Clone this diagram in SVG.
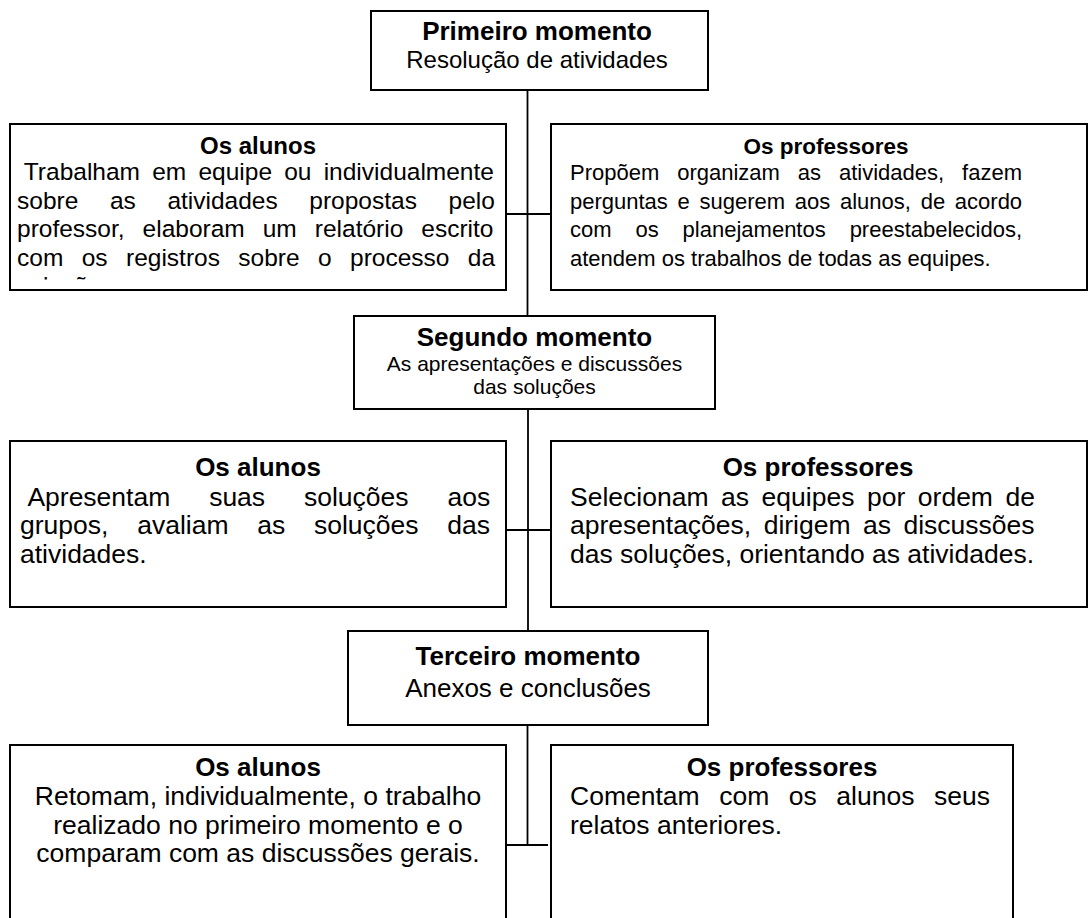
<svg xmlns="http://www.w3.org/2000/svg" width="1090" height="918" viewBox="0 0 1090 918">
<style>
.box{fill:#fff;stroke:#000;stroke-width:2}
.ln{fill:none;stroke:#000;stroke-width:1.8}
text{font-family:"Liberation Sans",Arial,sans-serif;fill:#000}
.b{font-weight:bold}
.c{text-anchor:middle}
.f1{font-size:24.5px}
.f1r{font-size:22px}
.f2{font-size:26.5px}
</style>
<defs>
<clipPath id="clipA"><rect x="10" y="124" width="496" height="155.5"/></clipPath>
</defs>
<g id="connectors">
<path class="ln" d="M527.5 90V316M506 214H551M528 409V631M506 530H551M527.5 725V845M502 845H548"/>
</g>
<g id="primeiro">
<rect class="box" x="371" y="11" width="337" height="79"/>
<text class="b c" x="537" y="40" font-size="26">Primeiro momento</text>
<text class="c" x="537" y="68" font-size="24">Resolução de atividades</text>
</g>
<g id="alunos1">
<rect class="box" x="10" y="124" width="496" height="166"/>
<text class="b c" x="258" y="154" font-size="24">Os alunos</text>
<g class="f1" clip-path="url(#clipA)">
<text x="23.8" y="180" style="word-spacing:5.4px">Trabalham em equipe ou individualmente</text>
<text x="17" y="208.5" style="word-spacing:24.8px">sobre as atividades propostas pelo</text>
<text x="17" y="237" style="word-spacing:11.2px">professor, elaboram um relatório escrito</text>
<text x="17" y="265.5" style="word-spacing:11.6px">com os registros sobre o processo da</text>
<text x="17" y="294">solução.</text>
</g>
</g>
<g id="professores1">
<rect class="box" x="551" y="124" width="536" height="166"/>
<text class="b c" x="826" y="154" font-size="22.5">Os professores</text>
<g class="f1r">
<text x="570" y="180" style="word-spacing:11.8px">Propõem organizam as atividades, fazem</text>
<text x="570" y="208.5" style="word-spacing:3.6px">perguntas e sugerem aos alunos, de acordo</text>
<text x="570" y="237" style="word-spacing:17.8px">com os planejamentos preestabelecidos,</text>
<text x="570" y="265.5">atendem os trabalhos de todas as equipes.</text>
</g>
</g>
<g id="segundo">
<rect class="box" x="354" y="316" width="361" height="93"/>
<text class="b c" x="534.5" y="346" font-size="26">Segundo momento</text>
<text class="c" x="534.5" y="371" font-size="21">As apresentações e discussões</text>
<text class="c" x="534.5" y="394" font-size="21">das soluções</text>
</g>
<g id="alunos2">
<rect class="box" x="10" y="441" width="496" height="166"/>
<text class="b c" x="258" y="476" font-size="26">Os alunos</text>
<g class="f2">
<text x="27.4" y="505.5" style="word-spacing:31.5px">Apresentam suas soluções aos</text>
<text x="20" y="534" style="word-spacing:21.4px">grupos, avaliam as soluções das</text>
<text x="20" y="562.5">atividades.</text>
</g>
</g>
<g id="professores2">
<rect class="box" x="551" y="441" width="536" height="166"/>
<text class="b c" x="818" y="476" font-size="26">Os professores</text>
<g class="f2">
<text x="570" y="505.5" style="word-spacing:5.2px">Selecionam as equipes por ordem de</text>
<text x="570" y="534" style="word-spacing:5.1px">apresentações, dirigem as discussões</text>
<text x="570" y="562.5">das soluções, orientando as atividades.</text>
</g>
</g>
<g id="terceiro">
<rect class="box" x="348" y="631" width="360" height="94"/>
<text class="b c" x="528" y="665" font-size="26">Terceiro momento</text>
<text class="c" x="528" y="697" font-size="26">Anexos e conclusões</text>
</g>
<g id="alunos3">
<rect class="box" x="10" y="745" width="496" height="200"/>
<text class="b c" x="258" y="776" font-size="26">Os alunos</text>
<g class="f2">
<text class="c" x="258" y="805">Retomam, individualmente, o trabalho</text>
<text class="c" x="258" y="833.5">realizado no primeiro momento e o</text>
<text class="c" x="258" y="862">comparam com as discussões gerais.</text>
</g>
</g>
<g id="professores3">
<rect class="box" x="551" y="745" width="462" height="200"/>
<text class="b c" x="782" y="776" font-size="26">Os professores</text>
<g class="f2">
<text x="570" y="805" style="word-spacing:12.2px">Comentam com os alunos seus</text>
<text x="570" y="833.5">relatos anteriores.</text>
</g>
</g>
</svg>
